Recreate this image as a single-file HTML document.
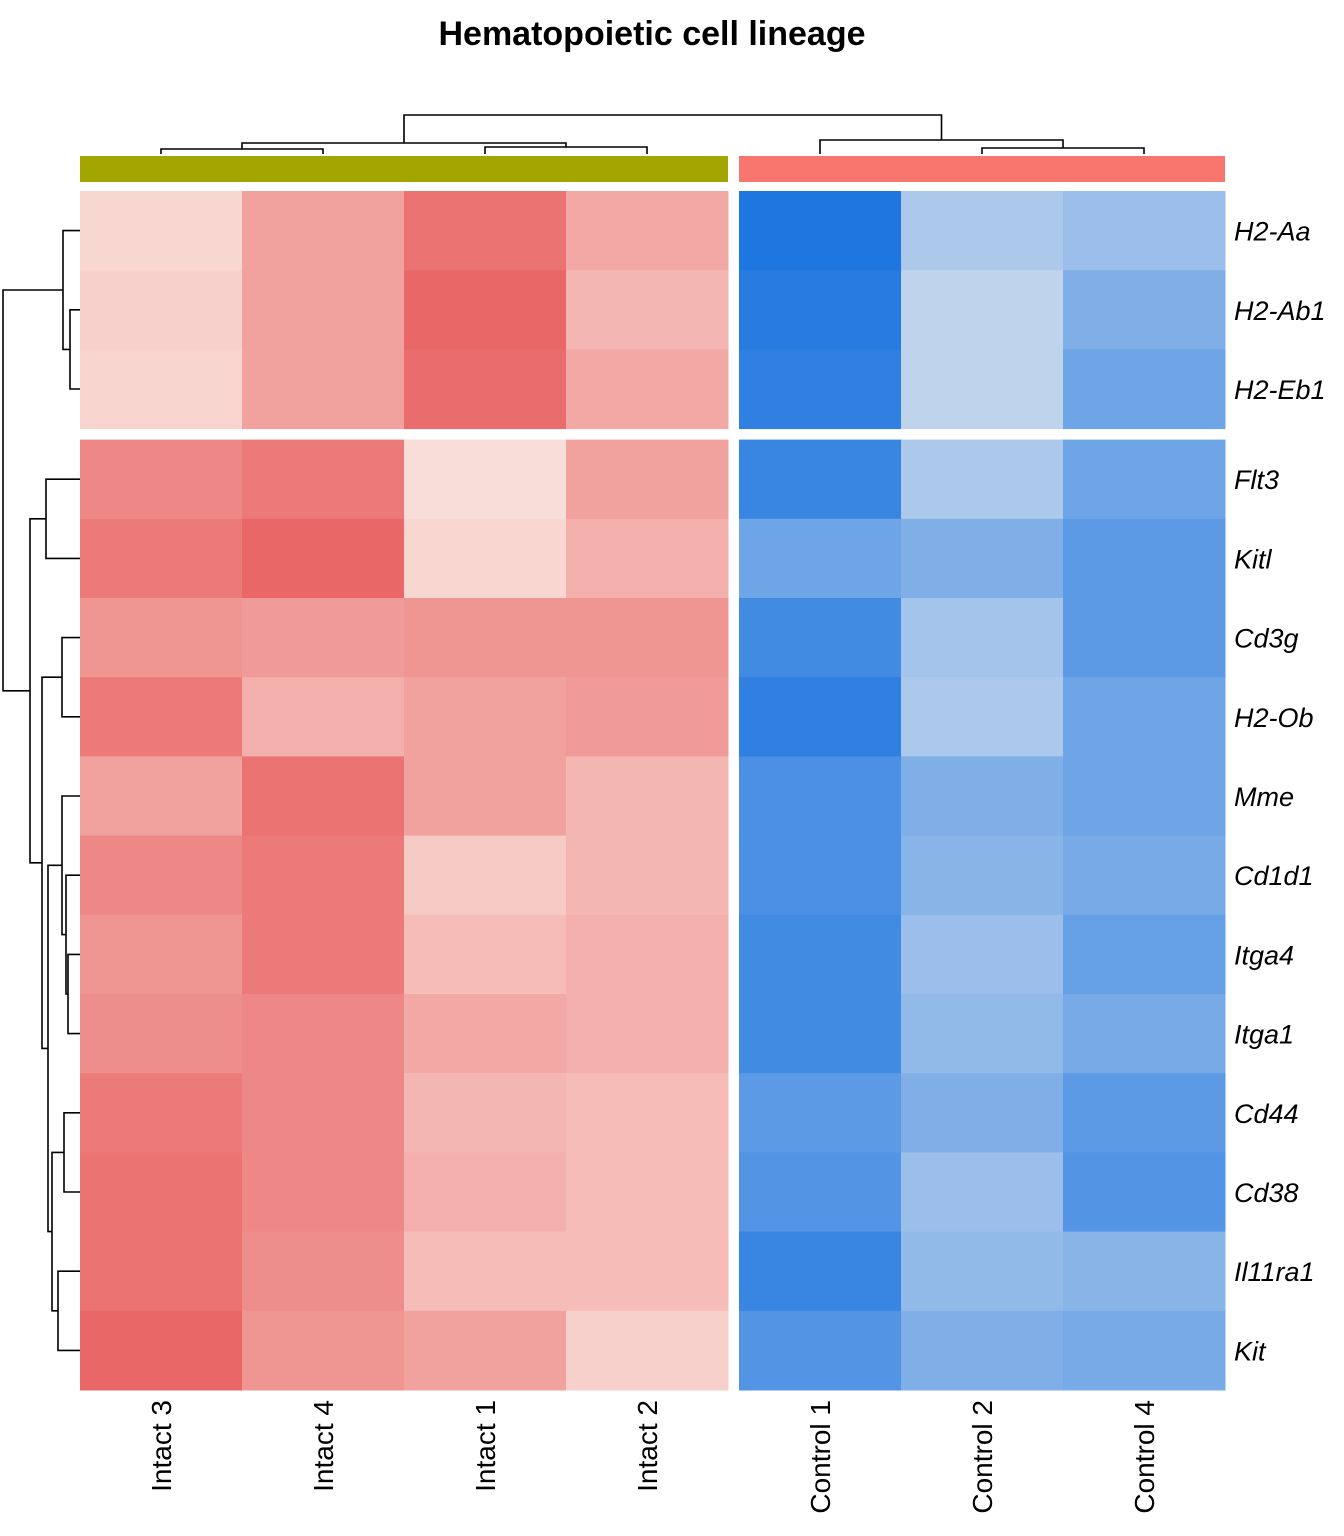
<!DOCTYPE html>
<html><head><meta charset="utf-8"><style>
html,body{margin:0;padding:0;background:#fff;}
svg{display:block;font-family:"Liberation Sans",Arial,sans-serif;}
</style></head><body>
<svg id="chart" width="1344" height="1536" viewBox="0 0 1344 1536" xmlns="http://www.w3.org/2000/svg">
<text x="652" y="45" text-anchor="middle" font-size="34" font-weight="bold">Hematopoietic cell lineage</text>
<g id="cells"></g><g id="rowlabels"></g><g id="collabels"></g><g id="dendro" stroke="#000" stroke-width="1.6" fill="none"></g>
<rect x="80" y="156" width="648" height="26" fill="#A3A500"/>
<rect x="739" y="156" width="486" height="26" fill="#F8766D"/>
</svg>
<script>
const cols = ["Intact 3","Intact 4","Intact 1","Intact 2","Control 1","Control 2","Control 4"];
const rows = ["H2-Aa","H2-Ab1","H2-Eb1","Flt3","Kitl","Cd3g","H2-Ob","Mme","Cd1d1","Itga4","Itga1","Cd44","Cd38","Il11ra1","Kit"];
// positive = red (intact up), negative = blue
const vH2Aa   = [0.1,0.5,0.85,0.45,-1.0,-0.2,-0.3];
const vH2Ab1  = [0.15,0.5,0.95,0.35,-0.95,-0.1,-0.45];
const vH2Eb1  = [0.12,0.5,0.9,0.45,-0.9,-0.1,-0.55];
const vFlt3   = [0.7,0.8,0.05,0.5,-0.85,-0.2,-0.55];
const vKitl   = [0.8,0.95,0.1,0.4,-0.55,-0.45,-0.65];
const vCd3g   = [0.6,0.55,0.6,0.6,-0.8,-0.25,-0.65];
const vH2Ob   = [0.8,0.4,0.5,0.55,-0.9,-0.2,-0.55];
const vMme    = [0.5,0.85,0.5,0.35,-0.75,-0.45,-0.55];
const vCd1d1  = [0.7,0.8,0.2,0.35,-0.75,-0.4,-0.5];
const vItga4  = [0.6,0.8,0.3,0.4,-0.8,-0.3,-0.6];
const vItga1  = [0.65,0.7,0.45,0.4,-0.8,-0.35,-0.5];
const vCd44   = [0.8,0.7,0.35,0.3,-0.65,-0.45,-0.65];
const vCd38   = [0.85,0.7,0.4,0.3,-0.7,-0.3,-0.7];
const vIl11ra1= [0.85,0.65,0.3,0.3,-0.85,-0.35,-0.4];
const vKit    = [0.95,0.6,0.5,0.15,-0.7,-0.45,-0.5];
const values = [vH2Aa,vH2Ab1,vH2Eb1,vFlt3,vKitl,vCd3g,vH2Ob,vMme,vCd1d1,vItga4,vItga1,vCd44,vCd38,vIl11ra1,vKit];

const NS="http://www.w3.org/2000/svg";
const CW=162, RH=(1390-191-11)/15;
function xOf(c){return 80+c*CW+(c>=4?11:0);}
function yOf(r){return 191+r*RH+(r>=3?11:0);}
function color(v){
  const lerp=(a,b,t)=>Math.round(a+(b-a)*t);
  let t=Math.min(1,Math.abs(v));
  let a,b;
  if(v>=0){a=[250,228,222];b=[232,96,96];}else{a=[208,222,238];b=[30,118,224];}
  return `rgb(${lerp(a[0],b[0],t)},${lerp(a[1],b[1],t)},${lerp(a[2],b[2],t)})`;
}
const gc=document.getElementById('cells');
rows.forEach((rn,r)=>{cols.forEach((cn,c)=>{
  const e=document.createElementNS(NS,'rect');
  e.setAttribute('x',xOf(c));e.setAttribute('y',yOf(r));
  e.setAttribute('width',CW+0.5);e.setAttribute('height',RH+0.5);
  e.setAttribute('fill',color(values[r][c]));
  
  
  gc.appendChild(e);
});});
const gr=document.getElementById('rowlabels');
rows.forEach((rn,r)=>{
  const t=document.createElementNS(NS,'text');
  t.setAttribute('x',1234);t.setAttribute('y',yOf(r)+RH/2+10);
  t.setAttribute('font-size','27');t.setAttribute('font-style','italic');
  t.textContent=rn;
  
  
  gr.appendChild(t);
});
const gl=document.getElementById('collabels');
cols.forEach((cn,c)=>{
  const x=xOf(c)+CW/2+10;
  const t=document.createElementNS(NS,'text');
  t.setAttribute('transform',`translate(${x},1400) rotate(-90)`);
  t.setAttribute('text-anchor','end');t.setAttribute('font-size','28');
  t.textContent=cn;
  
  
  gl.appendChild(t);
});
// dendrograms
const gd=document.getElementById('dendro');
function path(d,name){const p=document.createElementNS(NS,'path');p.setAttribute('d',d);
  
  
  gd.appendChild(p);}
const rc=r=>yOf(r)+RH/2;
function rj(x,y1,y2,x1,x2){path(`M${x1},${y1}H${x}V${y2}H${x2}`,'row-dendrogram-branch');}
const L=80;
const n12=(rc(1)+rc(2))/2; rj(70,rc(1),rc(2),L,L);
const n012=(rc(0)+n12)/2; rj(63,rc(0),n12,L,70);
const n34=(rc(3)+rc(4))/2; rj(46,rc(3),rc(4),L,L);
const n56=(rc(5)+rc(6))/2; rj(62,rc(5),rc(6),L,L);
const n910=(rc(9)+rc(10))/2; rj(68,rc(9),rc(10),L,L);
const n8=(rc(8)+n910)/2; rj(66,rc(8),n910,L,68);
const n7=(rc(7)+n8)/2; rj(62,rc(7),n8,L,66);
const n1112=(rc(11)+rc(12))/2; rj(64,rc(11),rc(12),L,L);
const n1314=(rc(13)+rc(14))/2; rj(58,rc(13),rc(14),L,L);
const nB=(n1112+n1314)/2; rj(52,n1112,n1314,64,58);
const nC=(n7+nB)/2; rj(48,n7,nB,62,52);
const nD=(n56+nC)/2; rj(42,n56,nC,62,48);
const nE=(n34+nD)/2; rj(30,n34,nD,46,42);
rj(3,n012,nE,63,30);
// column dendrogram
const cc=c=>xOf(c)+CW/2;
function cj(y,x1,x2,y1,y2){path(`M${x1},${y1}V${y}H${x2}V${y2}`,'column-dendrogram-branch');}
const T=154;
cj(149,cc(0),cc(1),T,T); const a=(cc(0)+cc(1))/2;
cj(147,cc(2),cc(3),T,T); const b=(cc(2)+cc(3))/2;
cj(143,a,b,149,147); const ab=(a+b)/2;
cj(148,cc(5),cc(6),T,T); const d=(cc(5)+cc(6))/2;
cj(140,cc(4),d,T,148); const cd=(cc(4)+d)/2;
cj(115,ab,cd,143,140);
</script>
</body></html>
